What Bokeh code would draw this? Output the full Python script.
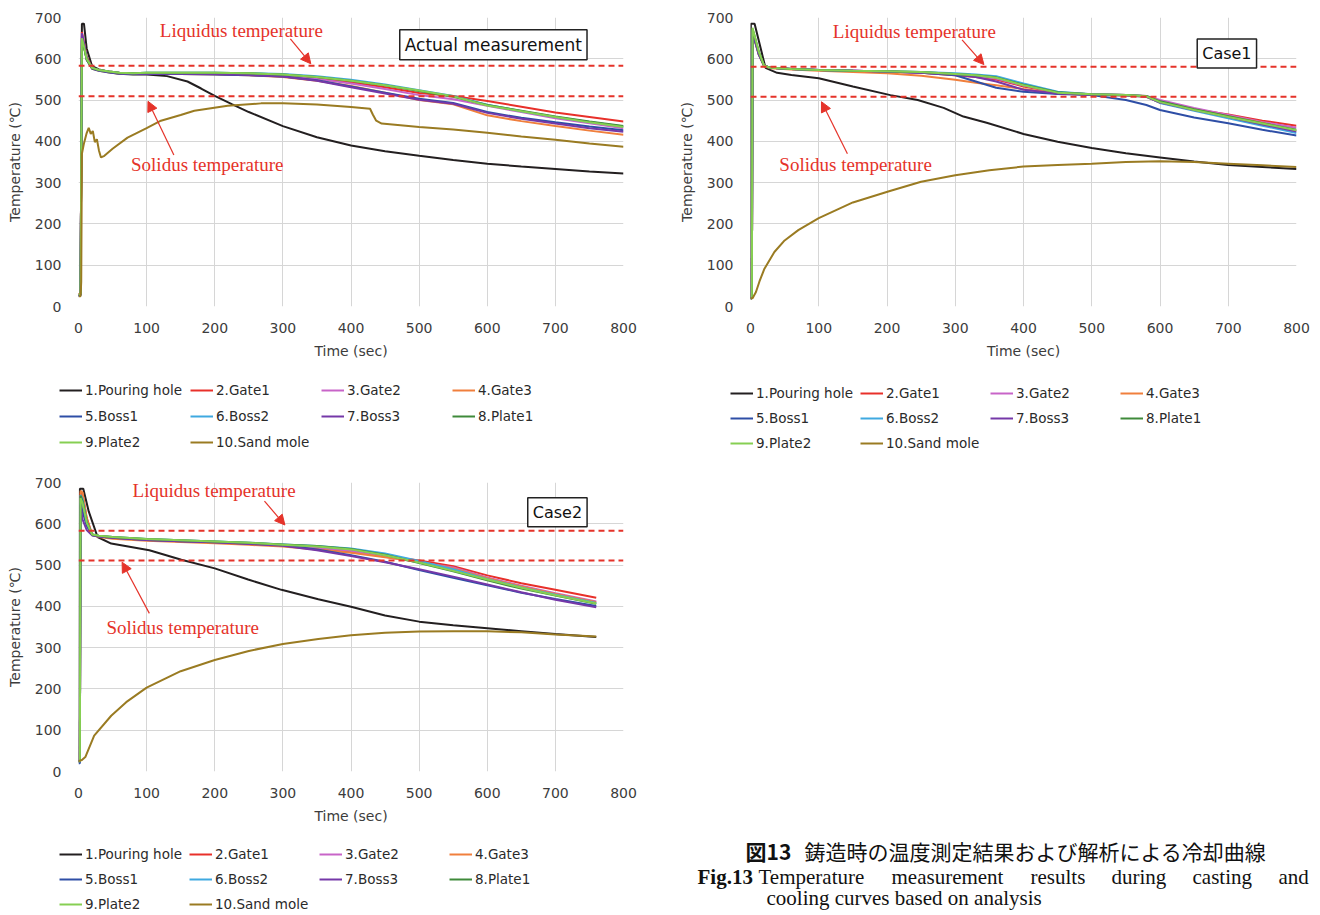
from bokeh.plotting import figure
from bokeh.models import Range1d, FixedTicker, Legend, LegendItem, Label, Arrow, NormalHead
from bokeh.layouts import column, row
from bokeh.embed import file_html
from bokeh.resources import INLINE

# ---------------- data ----------------
SERIES = ["1.Pouring hole", "2.Gate1", "3.Gate2", "4.Gate3", "5.Boss1",
          "6.Boss2", "7.Boss3", "8.Plate1", "9.Plate2", "10.Sand mole"]
COLORS = ["#231f20", "#e8302a", "#c864c8", "#f07f3c", "#2e4ea6",
          "#3fa9e0", "#7538a8", "#3f8a3a", "#86cf52", "#9a7b22"]
X_TICKS = [0, 100, 200, 300, 400, 500, 600, 700, 800]
Y_TICKS = [0, 100, 200, 300, 400, 500, 600, 700]
X_SPAN = [0, 800]
LIQUIDUS = [583, 581, 583]
SOLIDUS = [509, 508, 511]
PANEL_TAGS = ["Actual measurement", "Case1", "Case2"]

# --- Actual measurement ---
ACT_POUR_T = [0, 3, 5, 8, 12, 20, 30, 45, 60, 80, 100, 130, 160, 180, 200, 225, 250, 300, 350,
              400, 450, 500, 550, 600, 650, 700, 750, 800]
ACT_POUR = [25, 30, 685, 685, 625, 582, 574, 568, 564, 562, 562, 558, 545, 528, 510, 490, 471, 437, 410,
            390, 376, 365, 355, 346, 339, 333, 327, 322]
ACT_T = [0, 3, 5, 8, 12, 20, 30, 45, 60, 80, 100, 150, 200, 250, 300, 350, 400, 450, 500, 550,
         600, 650, 700, 750, 800]
ACT_GATE1 = [30, 32, 665, 640, 605, 578, 573, 569, 566, 565, 565, 565, 564, 563, 560, 553, 543, 531, 517, 510,
             498, 484, 470, 459, 448]
ACT_GATE2 = [28, 30, 660, 635, 600, 577, 572, 568, 565, 564, 564, 564, 563, 561, 558, 551, 540, 527, 512, 502,
             486, 471, 456, 444, 432]
ACT_GATE3 = [30, 32, 655, 630, 598, 576, 571, 567, 564, 563, 563, 563, 562, 560, 556, 547, 534, 518, 500, 490,
             463, 449, 437, 426, 416]
ACT_BOSS1 = [25, 28, 650, 630, 598, 576, 571, 567, 564, 563, 563, 563, 562, 560, 557, 548, 533, 518, 503, 493,
             471, 457, 446, 436, 427]
ACT_BOSS2 = [25, 28, 655, 632, 600, 578, 573, 569, 566, 565, 566, 566, 566, 565, 563, 558, 549, 538, 524, 510,
             489, 473, 459, 447, 436]
ACT_BOSS3 = [25, 28, 662, 638, 602, 577, 572, 568, 565, 564, 564, 564, 563, 561, 557, 547, 531, 516, 501, 491,
             469, 455, 443, 432, 423]
ACT_PLATE1 = [28, 30, 645, 628, 598, 577, 573, 569, 566, 565, 566, 566, 566, 565, 562, 556, 547, 536, 522, 508,
              488, 474, 460, 448, 437]
ACT_PLATE2 = [28, 30, 650, 630, 600, 578, 573, 569, 566, 565, 566, 566, 566, 565, 562, 556, 547, 536, 523, 509,
              487, 473, 459, 446, 435]
ACT_SAND_T = [0, 3, 4, 5, 8, 12, 15, 18, 21, 24, 27, 30, 33, 38, 50, 72, 100, 121, 150, 170, 219, 268,
              300, 350, 400, 428, 432, 437, 445, 500, 550, 600, 650, 700, 750, 800]
ACT_SAND = [25, 25, 60, 370, 395, 420, 433, 418, 425, 398, 405, 378, 361, 365, 382, 409, 432, 450, 464, 474, 486, 492,
            492, 489, 483, 479, 465, 450, 443, 435, 429, 421, 412, 404, 395, 387]

# --- Case1 ---
C1_POUR_T = [0, 0.5, 6, 22, 39, 60, 100, 150, 205, 245, 283, 312, 346, 400, 450, 500, 550, 600, 650, 700, 750, 800]
C1_POUR = [20, 685, 685, 578, 566, 561, 553, 533, 512, 500, 481, 460, 445, 418, 399, 384, 371, 361, 351, 343, 338, 333]
C1_T = [0, 2, 3, 6, 12, 20, 30, 60, 100, 150, 200, 250, 300, 330, 360, 400, 450, 500, 550, 580,
        600, 650, 700, 750, 800]
C1_GATE1 = [20, 20, 668, 650, 615, 583, 578, 575, 573, 571, 569, 566, 560, 556, 550, 533, 518, 514, 512, 509,
            494, 478, 465, 450, 438]
C1_GATE2 = [20, 20, 665, 648, 612, 583, 578, 575, 573, 571, 569, 566, 562, 558, 552, 535, 518, 514, 512, 510,
            500, 481, 464, 447, 433]
C1_GATE3 = [20, 20, 660, 645, 610, 582, 577, 574, 571, 568, 565, 559, 549, 542, 536, 527, 516, 513, 511, 508,
            494, 477, 461, 445, 425]
C1_BOSS1 = [20, 20, 662, 646, 611, 583, 578, 575, 573, 571, 569, 566, 560, 545, 530, 520, 515, 512, 500, 488,
            476, 458, 444, 428, 414]
C1_BOSS2 = [20, 20, 670, 652, 616, 583, 578, 575, 573, 571, 570, 568, 565, 562, 558, 540, 520, 514, 512, 509,
            493, 474, 456, 438, 420]
C1_BOSS3 = [20, 20, 664, 648, 612, 583, 578, 575, 573, 571, 569, 566, 562, 556, 545, 525, 516, 513, 511, 508,
            494, 476, 459, 441, 424]
C1_PLATE1 = [20, 20, 672, 655, 618, 583, 578, 575, 573, 571, 570, 568, 563, 560, 555, 537, 519, 514, 512, 510,
             497, 478, 461, 444, 428]
C1_PLATE2 = [20, 20, 675, 656, 618, 583, 578, 575, 573, 571, 570, 568, 563, 560, 554, 536, 518, 514, 512, 509,
             495, 476, 459, 443, 427]
C1_SAND_T = [0, 3, 8, 13, 20, 35, 50, 70, 100, 150, 203, 250, 300, 350, 400, 450, 500, 550, 600, 650, 700, 750, 800]
C1_SAND = [20, 20, 35, 60, 90, 132, 160, 185, 214, 252, 279, 302, 318, 330, 339, 343, 346, 350, 352, 350, 346, 342, 338]

# --- Case2 ---
C2_POUR_T = [0, 1, 2, 7, 15, 28, 48, 104, 151, 200, 249, 298, 352, 400, 450, 500, 550, 600, 650, 700, 760]
C2_POUR = [25, 25, 685, 685, 630, 568, 552, 536, 513, 492, 465, 440, 417, 399, 378, 363, 354, 347, 340, 333, 326]
C2_T = [0, 2, 3, 6, 12, 20, 30, 50, 100, 150, 200, 250, 300, 350, 400, 450, 500, 550, 600, 650, 700, 760]
C2_GATE1 = [25, 25, 675, 672, 615, 574, 570, 566, 561, 558, 555, 551, 547, 541, 533, 522, 511, 497, 475, 456, 440, 421]
C2_GATE2 = [25, 25, 662, 645, 600, 573, 569, 566, 561, 558, 555, 551, 548, 542, 534, 520, 507, 494, 470, 450, 432, 412]
C2_GATE3 = [25, 25, 680, 676, 612, 573, 568, 564, 559, 556, 553, 549, 545, 538, 530, 519, 508, 492, 468, 448, 430, 410]
C2_BOSS1 = [20, 20, 650, 630, 595, 572, 569, 566, 561, 558, 555, 552, 548, 538, 524, 508, 488, 469, 451, 433, 418, 401]
C2_BOSS2 = [25, 25, 670, 660, 605, 574, 571, 568, 563, 560, 557, 554, 550, 546, 540, 528, 510, 490, 466, 446, 428, 408]
C2_BOSS3 = [25, 25, 645, 610, 585, 572, 569, 566, 561, 558, 555, 551, 547, 536, 522, 507, 490, 472, 453, 434, 416, 398]
C2_PLATE1 = [25, 25, 668, 655, 605, 574, 571, 568, 563, 560, 557, 554, 550, 546, 539, 525, 505, 485, 463, 443, 426, 406]
C2_PLATE2 = [25, 25, 662, 650, 603, 574, 571, 568, 563, 560, 557, 554, 549, 545, 538, 524, 506, 486, 465, 445, 427, 407]
C2_SAND_T = [0, 5, 10, 23, 48, 70, 100, 150, 200, 250, 300, 352, 400, 450, 500, 550, 600, 650, 700, 760]
C2_SAND = [25, 28, 35, 87, 135, 168, 203, 243, 270, 292, 309, 321, 330, 336, 339, 340, 340, 337, 332, 327]

CAPTION_JP_HEAD = "図13"
CAPTION_JP = "鋳造時の温度測定結果および解析による冷却曲線"
CAPTION_EN_HEAD = "Fig.13"
CAPTION_EN_WORDS = ["Temperature", "measurement", "results", "during", "casting", "and"]
CAPTION_EN_2 = "cooling curves based on analysis"

# ---------------- styling ----------------
RED = "#e5332a"
GRID = "#d6d6d6"
TXT = "#3c3c3c"


def make_panel(width, height, borders, curves, liq, sol, tag, tag_size, ann):
    bl, bt, br, bb = borders
    p = figure(width=width, height=height, x_range=Range1d(0, 800), y_range=Range1d(0, 700),
               output_backend="svg", toolbar_location=None,
               min_border_left=bl, min_border_top=bt, min_border_right=br, min_border_bottom=bb)
    p.outline_line_color = None
    p.background_fill_color = "white"
    p.border_fill_color = "white"
    for ax, ticks in ((p.xaxis[0], X_TICKS), (p.yaxis[0], Y_TICKS)):
        ax.ticker = FixedTicker(ticks=ticks)
        ax.major_tick_line_color = None
        ax.minor_tick_line_color = None
        ax.axis_line_color = None
        ax.major_tick_out = 0
        ax.major_label_text_font = "DejaVu Sans"
        ax.major_label_text_font_size = "14px"
        ax.major_label_text_color = TXT
        ax.axis_label_text_font = "DejaVu Sans"
        ax.axis_label_text_font_size = "14px"
        ax.axis_label_text_font_style = "normal"
        ax.axis_label_text_color = TXT
    p.xaxis.axis_label = "Time (sec)"
    p.yaxis.axis_label = "Temperature (℃)"
    p.xaxis.major_label_standoff = 16
    p.xaxis.axis_label_standoff = 7
    p.yaxis.major_label_standoff = 17
    p.yaxis.axis_label_standoff = 9
    p.xgrid.ticker = FixedTicker(ticks=X_TICKS)
    p.ygrid.ticker = FixedTicker(ticks=Y_TICKS)
    p.grid.grid_line_color = GRID
    p.grid.grid_line_width = 1

    for color, (t, y) in zip(COLORS, curves):
        p.line(t, y, line_color=color, line_width=2)

    p.line(X_SPAN, [liq, liq], line_color=RED, line_width=2, line_dash="6 4")
    p.line(X_SPAN, [sol, sol], line_color=RED, line_width=2, line_dash="6 4")

    (lx, ly), (lax0, lay0, lax1, lay1), (sx, sy), (sax0, say0, sax1, say1), (tx, ty) = ann
    p.add_layout(Label(x=lx, y=ly, text="Liquidus temperature", text_font="Liberation Serif",
                       text_font_size="19px", text_color=RED, text_align="center", text_baseline="middle"))
    p.add_layout(Label(x=sx, y=sy, text="Solidus temperature", text_font="Liberation Serif",
                       text_font_size="19px", text_color=RED, text_align="center", text_baseline="middle"))
    for x0, y0, x1, y1 in ((lax0, lay0, lax1, lay1), (sax0, say0, sax1, say1)):
        p.add_layout(Arrow(end=NormalHead(size=10, fill_color=RED, line_color=RED, line_width=1),
                           x_start=x0, y_start=y0, x_end=x1, y_end=y1,
                           line_color=RED, line_width=1.2))
    p.add_layout(Label(x=tx, y=ty, text=tag, text_font="DejaVu Sans", text_font_size=tag_size,
                       text_color="#111111", text_align="center", text_baseline="middle",
                       border_line_color="#222222", border_line_width=1.5,
                       background_fill_color="white", padding=5))
    return p


def make_legend_fig(width, height, border_left, loc, spacing, curves):
    # the series lines are re-used here only as legend swatches; the ranges keep them out of view
    lf = figure(width=width, height=height, x_range=Range1d(0, 1), y_range=Range1d(-2, -1),
                x_axis_location=None, y_axis_location=None, output_backend="svg",
                toolbar_location=None, min_border_left=border_left, min_border_right=0,
                min_border_top=0, min_border_bottom=0)
    lf.outline_line_color = None
    lf.grid.visible = False
    items = []
    for label, color, (t, y) in zip(SERIES, COLORS, curves):
        r = lf.line(t, y, line_color=color, line_width=2)
        items.append(LegendItem(label=label, renderers=[r]))
    leg = Legend(items=items, location=loc, orientation="horizontal", ncols=4,
                 glyph_width=23, glyph_height=20, label_height=20, label_width=99, label_standoff=3,
                 spacing=spacing, padding=0, margin=0, border_line_color=None,
                 background_fill_alpha=0, label_text_font="DejaVu Sans",
                 label_text_font_size="13.5px", label_text_color="#2a2a2a")
    lf.add_layout(leg, "center")
    return lf


act_curves = [(ACT_POUR_T, ACT_POUR), (ACT_T, ACT_GATE1), (ACT_T, ACT_GATE2), (ACT_T, ACT_GATE3),
              (ACT_T, ACT_BOSS1), (ACT_T, ACT_BOSS2), (ACT_T, ACT_BOSS3), (ACT_T, ACT_PLATE1),
              (ACT_T, ACT_PLATE2), (ACT_SAND_T, ACT_SAND)]
c1_curves = [(C1_POUR_T, C1_POUR), (C1_T, C1_GATE1), (C1_T, C1_GATE2), (C1_T, C1_GATE3),
             (C1_T, C1_BOSS1), (C1_T, C1_BOSS2), (C1_T, C1_BOSS3), (C1_T, C1_PLATE1),
             (C1_T, C1_PLATE2), (C1_SAND_T, C1_SAND)]
c2_curves = [(C2_POUR_T, C2_POUR), (C2_T, C2_GATE1), (C2_T, C2_GATE2), (C2_T, C2_GATE3),
             (C2_T, C2_BOSS1), (C2_T, C2_BOSS2), (C2_T, C2_BOSS3), (C2_T, C2_PLATE1),
             (C2_T, C2_PLATE2), (C2_SAND_T, C2_SAND)]

ann1 = ((239, 668), (311, 648, 341, 588), (189, 343), (140, 367, 102, 497), (609, 634))
ann2 = ((240, 665), (310, 646, 342, 586), (154, 344), (142, 370, 104, 496), (698, 613))
ann3 = ((199, 680), (273, 655, 303, 597), (153, 350), (104, 383, 64, 507), (703, 628))

p1 = make_panel(672, 364, (78, 17, 49, 58), act_curves, LIQUIDUS[0], SOLIDUS[0], PANEL_TAGS[0], "17px", ann1)
p2 = make_panel(648, 364, (78, 17, 24, 58), c1_curves, LIQUIDUS[1], SOLIDUS[1], PANEL_TAGS[1], "16px", ann2)
p3 = make_panel(672, 367, (78, 20, 49, 58), c2_curves, LIQUIDUS[2], SOLIDUS[2], PANEL_TAGS[2], "16px", ann3)

l1 = make_legend_fig(672, 98, 59, (0, 10), 6, act_curves)
l2 = make_legend_fig(648, 98, 58, (0, 9), 5, c1_curves)
l3 = make_legend_fig(672, 86, 59, (0, 1), 5, c2_curves)

# caption panel: pixel-like coordinates, y measured downward
p4 = figure(width=648, height=453, x_range=Range1d(0, 648), y_range=Range1d(453, 0),
            x_axis_location=None, y_axis_location=None, output_backend="svg",
            toolbar_location=None, min_border=0)
p4.outline_line_color = None
p4.grid.visible = False
INK = "#111111"
p4.add_layout(Label(x=73, y=388, text=CAPTION_JP_HEAD, text_font="Noto Sans CJK JP",
                    text_font_size="21px", text_font_style="bold", text_color=INK, text_baseline="middle"))
p4.add_layout(Label(x=132, y=388, text=CAPTION_JP, text_font="Noto Sans CJK JP",
                    text_font_size="21px", text_color=INK, text_baseline="middle"))
p4.add_layout(Label(x=25, y=414, text=CAPTION_EN_HEAD, text_font="Liberation Serif",
                    text_font_size="21px", text_font_style="bold", text_color=INK, text_baseline="middle"))
for wx, word in zip([86, 219, 358, 439, 520, 606], CAPTION_EN_WORDS):
    p4.add_layout(Label(x=wx, y=414, text=word, text_font="Liberation Serif",
                        text_font_size="21px", text_color=INK, text_baseline="middle"))
p4.add_layout(Label(x=94, y=435, text=CAPTION_EN_2, text_font="Liberation Serif",
                    text_font_size="21px", text_color=INK, text_baseline="middle"))

layout = column(row(column(p1, row(l1)), column(p2, row(l2))), row(column(p3, row(l3)), row(p4)))
open("out.html", "w").write(file_html(layout, INLINE))
